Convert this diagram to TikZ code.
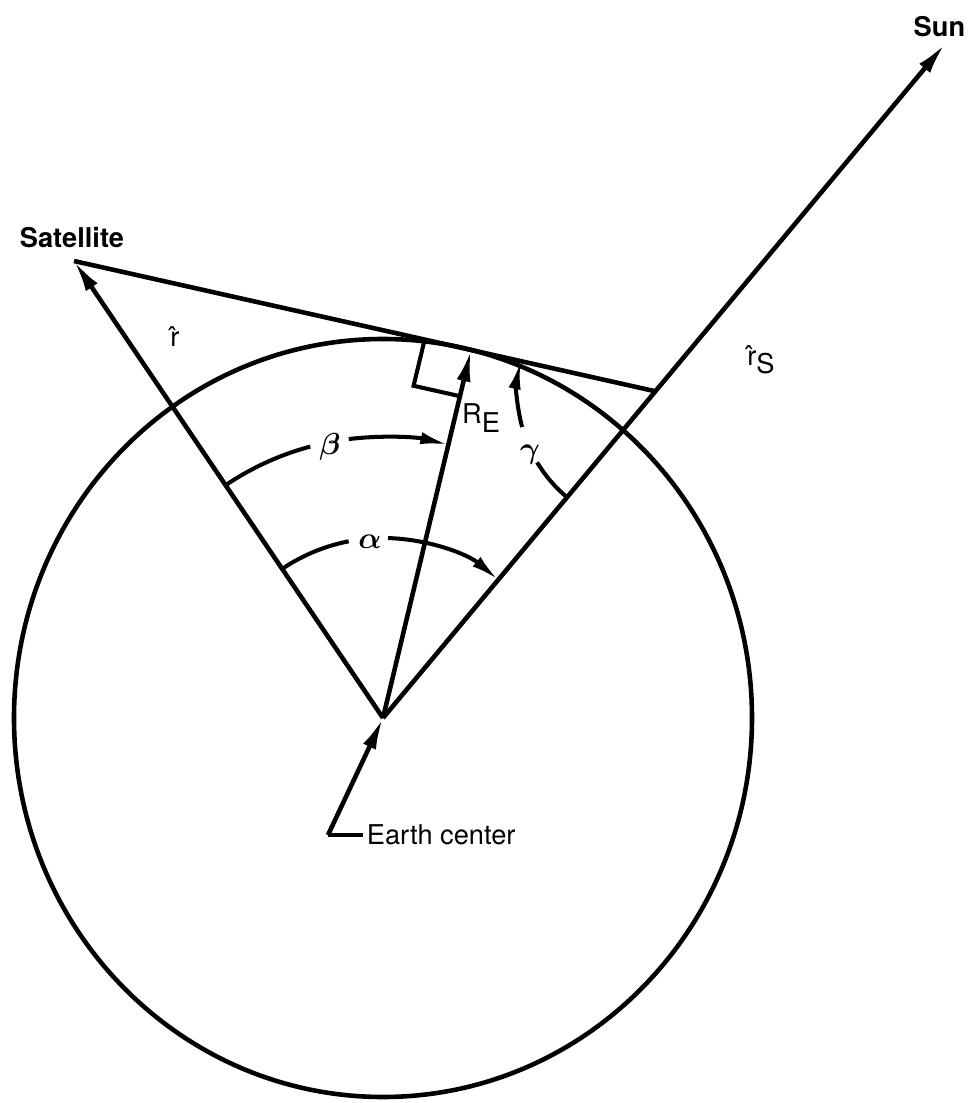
\documentclass[tikz,border=0pt]{standalone}
\usepackage{fontspec}
\setmainfont{TeX Gyre Heros}
\usetikzlibrary{arrows.meta,positioning,calc}
\tikzset{
  ln/.style={line width=2.6pt,draw=black},
  arr/.style={-{Latex[length=18pt,width=8pt]},line width=2.6pt,draw=black},
  ang/.style={line width=2.3pt,draw=black},
  aarr/.style={-{Latex[length=16pt,width=7pt]},line width=2.3pt,draw=black},
  lbl/.style={font=\fontsize{15.5}{18}\selectfont,inner sep=2pt},
  blbl/.style={font=\fontsize{15.5}{18}\selectfont\bfseries,inner sep=2pt},
  glbl/.style={font=\fontsize{17}{20}\selectfont\boldmath,inner sep=2pt},
}
\begin{document}
\begin{tikzpicture}
  \useasboundingbox (-7.66,-7.70) rectangle (11.78,14.36);
  % geometry
  \coordinate (O) at (0,0);
  \coordinate (sat) at (-6.18,9.14);
  \coordinate (sun) at (11.24,13.48);
  \coordinate (T) at (1.76,7.36);
  \coordinate (P) at (intersection of sat--T and O--sun);
  \draw[ln] (O) ellipse [x radius=7.38,y radius=7.58];
  \draw[arr] (O) -- (sat);
  \draw[arr] (O) -- (T);
  \draw[arr] (O) -- (sun);
  \draw[ln] (sat) -- (P);
  % right angle at the tangent point
  \coordinate (ra1) at ($(T)!0.95cm!(sat)$);
  \coordinate (ra2) at ($(T)!0.95cm!(O)$);
  \draw[ang] (ra1) -- ($(ra1)+(ra2)-(T)$) -- (ra2);
  % angles
  \draw[ang] (124.06:5.62) arc[start angle=124.06,end angle=105,radius=5.62];
  \draw[aarr] (97:5.62) arc[start angle=97,end angle=76.55,radius=5.62];
  \draw[ang] (124.06:3.6) arc[start angle=124.06,end angle=101,radius=3.6];
  \draw[aarr] (88.4:3.6) arc[start angle=88.4,end angle=50.18,radius=3.6];
  \draw[ang] ($(P)+(230.18:2.76)$) arc[start angle=230.18,end angle=211,radius=2.76];
  \draw[aarr] ($(P)+(195:2.76)$) arc[start angle=195,end angle=167.4,radius=2.76];
  % labels
  \node[blbl] (satl) at (-6.22,9.60) {Satellite};
  \node[blbl,anchor=east] (sunl) at (11.72,13.82) {Sun};
  \node[lbl] (rh) at (-4.16,7.62) {\^{r}};
  \node[lbl] (re) at (1.96,6.00) {R\raisebox{-0.6ex}{E}};
  \node[lbl] (rs) at (7.56,7.16) {\^{r}\raisebox{-0.6ex}{S}};
  \node[glbl] (bl) at (-1.06,5.42) {$\beta$};
  \node[glbl] (al) at (-0.26,3.52) {$\alpha$};
  \node[glbl] (gl) at (2.94,5.26) {$\gamma$};
  \node[lbl,anchor=west] (ec) at (-0.40,-2.34) {Earth center};
  \coordinate (ecc) at (-1.10,-2.34);
  \draw[ln] (ec.west) -- (ecc);
  \draw[arr] (ecc) -- (O);
\end{tikzpicture}
\end{document}
